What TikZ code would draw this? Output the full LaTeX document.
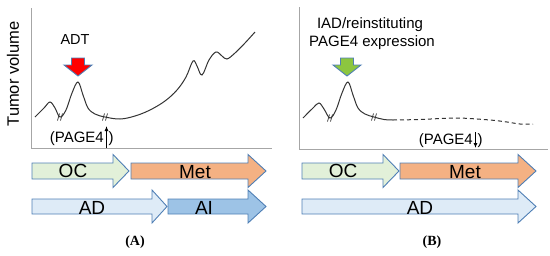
\documentclass[tikz,border=0pt]{standalone}
\usepackage{fontspec}
\setmainfont{Liberation Sans}
\newfontfamily\capfont{Liberation Serif}
\usetikzlibrary{arrows.meta}
\definecolor{edgeblue}{HTML}{4F7FB5}
\definecolor{ocfill}{HTML}{E2F0D9}
\definecolor{metfill}{HTML}{F4B183}
\definecolor{adfill}{HTML}{DEEBF7}
\definecolor{aifill}{HTML}{9DC3E6}
\definecolor{axisgray}{HTML}{A6A6A6}
\definecolor{curvegray}{HTML}{333333}
\definecolor{greenarr}{HTML}{8CC63F}
\newcommand\blockarr[7]{% fill, x1, x2(body end), tip, ytop, ybot, head half-height
  \draw[edgeblue, line width=0.9pt, fill=#1, line join=miter]
    (#2,#5) -- (#3,#5) -- (#3,{(#5+#6)/2-#7}) -- (#4,{(#5+#6)/2}) -- (#3,{(#5+#6)/2+#7}) -- (#3,#6) -- (#2,#6) -- cycle;}
\newcommand\downarr[2]{% fill, center x
  \draw[edgeblue, line width=0.9pt, fill=#1, line join=miter]
    (#2-6.5,58) -- (#2+6.5,58) -- (#2+6.5,65) -- (#2+14,65) -- (#2,76) -- (#2-14,65) -- (#2-6.5,65) -- cycle;}
\begin{document}
\begin{tikzpicture}[x=1pt,y=-1pt,
  axis/.style={axisgray, line width=1pt},
  curve/.style={curvegray, line width=1pt},
  lbl/.style={inner sep=0pt, font=\fontsize{19}{19}\selectfont},
  txt/.style={inner sep=0pt, font=\fontsize{15}{15}\selectfont},
  hashmark/.style={curvegray, line width=0.7pt}]
\useasboundingbox (0,0) rectangle (550,255);
% ---------- Panel A ----------
\draw[axis] (31,8) -- (31,148) -- (272,148);
\node[txt, rotate=90, font=\fontsize{16.5}{16.5}\selectfont] (ylab) at (13,74) {Tumor volume};
\draw[curve] plot[smooth, tension=0.6] coordinates {(35,117) (44,108) (50,102) (55,108) (60,117) (66,110) (72,93) (78,82) (83,95) (88,108) (95,114) (105,117) (120,119) (135,116) (150,110) (165,101) (177,90) (186,77) (193,61) (197,66) (202,75) (209,60) (216,52) (222,56) (227,59) (235,53) (245,43) (255,32)};
\foreach \hx/\hy in {60/117, 105/117}{
  \draw[hashmark] (\hx-2.5,\hy+3.5) -- (\hx-0.5,\hy-3.5);
  \draw[hashmark] (\hx+0.5,\hy+3.5) -- (\hx+2.5,\hy-3.5);}
\downarr{red}{78}
\node[txt, font=\fontsize{14.5}{14.5}\selectfont] (adt) at (75,40) {ADT};
\node[txt, anchor=east] (pga) at (104,138.5) {(PAGE4};
\coordinate (upb) at (106.5,148);
\coordinate (upt) at (106.5,126);
\draw[black, line width=1pt, -{Latex[length=5pt,width=4pt]}] (upb) -- (upt);
\node[txt, anchor=west] (pgac) at (108.5,138.5) {)};
% bottom arrows A
\blockarr{ocfill}{32}{113}{129}{163}{179}{16.5}
\blockarr{metfill}{131}{248}{266}{163}{179}{16.5}
\blockarr{adfill}{32}{152}{167}{199}{214}{16.5}
\blockarr{aifill}{168}{248}{266}{199}{214}{16.5}
\node[lbl] (oca) at (73,171) {OC};
\node[lbl] (meta) at (195,172) {Met};
\node[lbl] (ada) at (92,208) {AD};
\node[lbl] (aia) at (204,208) {AI};
\node[inner sep=0pt, font=\capfont\bfseries\fontsize{14}{14}\selectfont] (capA) at (135,242) {(A)};
% ---------- Panel B ----------
\draw[axis] (299,7) -- (299,149) -- (548,149);
\draw[curve] plot[smooth, tension=0.6] coordinates {(303,118) (313,108) (319,103) (324,109) (330,118) (336,110) (342,93) (348,82) (353,95) (358,108) (365,114) (374,117) (384,119.5) (393,120)};
\draw[curve, dash pattern=on 4pt off 3pt] plot[smooth, tension=0.5] coordinates {(393,120) (420,119.5) (457,118) (490,120) (507,122) (520,124) (533,124)};
\foreach \hx/\hy in {330/118, 374/117}{
  \draw[hashmark] (\hx-2.5,\hy+3.5) -- (\hx-0.5,\hy-3.5);
  \draw[hashmark] (\hx+0.5,\hy+3.5) -- (\hx+2.5,\hy-3.5);}
\downarr{greenarr}{347}
\node[txt] (iad1) at (370,25) {IAD/reinstituting};
\node[txt] (iad2) at (372,43) {PAGE4 expression};
\node[txt, anchor=east] (pgb) at (473,141) {(PAGE4};
\coordinate (dnt) at (475.5,132);
\coordinate (dnb) at (475.5,148);
\draw[black, line width=1pt, -{Latex[length=5pt,width=4pt]}] (dnt) -- (dnb);
\node[txt, anchor=west] (pgbc) at (477.5,141) {)};
% bottom arrows B
\blockarr{ocfill}{302}{383}{399}{163}{179}{16.5}
\blockarr{metfill}{400}{518}{536}{163}{179}{16.5}
\blockarr{adfill}{302}{518}{536}{199}{214}{16.5}
\node[lbl] (ocb) at (343,171) {OC};
\node[lbl] (metb) at (465,172) {Met};
\node[lbl] (adb) at (420,208) {AD};
\node[inner sep=0pt, font=\capfont\bfseries\fontsize{14}{14}\selectfont] (capB) at (432,242) {(B)};
\end{tikzpicture}
\end{document}
